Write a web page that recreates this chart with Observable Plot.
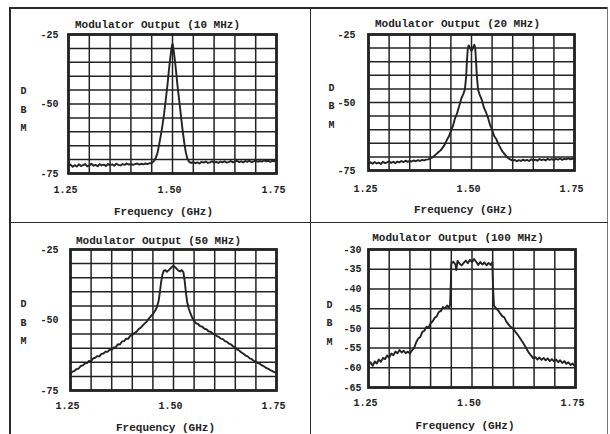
<!DOCTYPE html>
<html>
<head>
<meta charset="utf-8">
<script src="https://cdn.jsdelivr.net/npm/d3@7"></script>
<script src="https://cdn.jsdelivr.net/npm/@observablehq/plot@0.6"></script>
<style>
  html, body { margin: 0; padding: 0; background: #fff; }
  #page { position: relative; width: 610px; height: 434px; background: #fff; overflow: hidden; }
  .ln { position: absolute; background: #2b2b2b; }
  .panel { position: absolute; width: 305px; height: 217px; }
</style>
</head>
<body>
<div id="page">
  <div class="ln" style="left:9px;top:7px;width:599px;height:1.5px;"></div>
  <div class="ln" style="left:9px;top:7px;width:1.5px;height:427px;"></div>
  <div class="ln" style="left:607px;top:7px;width:1px;height:427px;background:#777;"></div>
  <div class="ln" style="left:309.5px;top:7px;width:1.5px;height:427px;"></div>
  <div class="ln" style="left:9px;top:221.5px;width:599px;height:1.5px;"></div>
  <div class="panel" id="p1" style="left:0;top:0;"></div>
  <div class="panel" id="p2" style="left:305px;top:0;"></div>
  <div class="panel" id="p3" style="left:0;top:217px;"></div>
  <div class="panel" id="p4" style="left:305px;top:217px;"></div>
</div>
<script>
// ---- Titles and labels ----
const titles = ["Modulator Output (10 MHz)", "Modulator Output (20 MHz)", "Modulator Output (50 MHz)", "Modulator Output (100 MHz)"];
const xLabel = "Frequency (GHz)";
const yLabel = "D\nB\nM";

// ---- Axis ticks ----
const xGrid = [1.25, 1.30, 1.35, 1.40, 1.45, 1.50, 1.55, 1.60, 1.65, 1.70, 1.75];
const xTicks = [1.25, 1.50, 1.75];
const xTickLabels = ["1.25", "1.50", "1.75"];
const yGridA = [-25, -30, -35, -40, -45, -50, -55, -60, -65, -70, -75];
const yTicksA = [-25, -50, -75];
const yTickLabelsA = ["-25", "-50", "-75"];
const yGridB = [-30, -35, -40, -45, -50, -55, -60, -65];
const yTicksB = [-30, -35, -40, -45, -50, -55, -60, -65];
const yTickLabelsB = ["-30", "-35", "-40", "-45", "-50", "-55", "-60", "-65"];

// ---- Spectra: [frequency GHz, dBm] ----
const spec10 = [
  [1.250,-72.4],[1.255,-71.8],[1.260,-72.6],[1.265,-72.0],[1.270,-72.5],[1.275,-71.7],[1.280,-72.3],[1.285,-72.0],[1.290,-71.6],[1.295,-72.4],
  [1.300,-72.1],[1.305,-71.5],[1.310,-72.2],[1.315,-71.9],[1.320,-72.4],[1.325,-71.6],[1.330,-72.1],[1.335,-71.8],[1.340,-72.3],[1.345,-71.6],
  [1.350,-72.0],[1.355,-71.7],[1.360,-72.2],[1.365,-71.5],[1.370,-71.9],[1.375,-72.1],[1.380,-71.6],[1.385,-71.9],[1.390,-71.4],[1.395,-71.8],
  [1.400,-71.5],[1.405,-71.9],[1.410,-71.6],[1.415,-71.4],[1.420,-71.8],[1.425,-71.5],[1.430,-71.7],[1.435,-71.4],[1.440,-71.6],[1.445,-71.3],
  [1.450,-71.2],[1.455,-70.6],[1.460,-69.3],[1.464,-67.6],[1.468,-64.5],[1.472,-61.2],[1.476,-57.5],[1.480,-53.3],[1.484,-48.2],[1.488,-43.0],
  [1.491,-38.4],[1.494,-34.2],[1.497,-30.6],[1.499,-28.9],[1.500,-28.4],[1.501,-28.8],[1.503,-30.9],[1.506,-34.6],[1.509,-38.9],[1.512,-43.4],
  [1.516,-48.5],[1.520,-53.8],[1.524,-59.0],[1.528,-63.6],[1.532,-67.4],[1.536,-69.8],[1.540,-70.8],[1.545,-71.2],[1.550,-70.9],[1.555,-71.3],
  [1.560,-71.0],[1.565,-71.4],[1.570,-70.8],[1.575,-71.1],[1.580,-70.7],[1.585,-71.2],[1.590,-71.0],[1.595,-70.6],[1.600,-71.1],[1.605,-70.8],
  [1.610,-71.2],[1.615,-70.7],[1.620,-71.0],[1.625,-70.6],[1.630,-71.1],[1.635,-70.9],[1.640,-70.5],[1.645,-71.0],[1.650,-70.7],[1.655,-70.4],
  [1.660,-70.9],[1.665,-70.6],[1.670,-71.0],[1.675,-70.5],[1.680,-70.8],[1.685,-70.4],[1.690,-70.9],[1.695,-70.6],[1.700,-70.3],[1.705,-70.8],
  [1.710,-70.5],[1.715,-70.7],[1.720,-70.3],[1.725,-70.6],[1.730,-70.4],[1.735,-70.8],[1.740,-70.4],[1.745,-70.6],[1.750,-70.3]
];
const spec20 = [
  [1.250,-72.6],[1.255,-72.0],[1.260,-72.5],[1.265,-71.9],[1.270,-72.4],[1.275,-72.1],[1.280,-72.6],[1.285,-71.8],[1.290,-72.3],[1.295,-72.0],
  [1.300,-71.6],[1.305,-72.2],[1.310,-71.8],[1.315,-72.3],[1.320,-71.7],[1.325,-72.0],[1.330,-71.5],[1.335,-71.9],[1.340,-71.4],[1.345,-71.8],
  [1.350,-71.5],[1.355,-71.7],[1.360,-71.3],[1.365,-71.6],[1.370,-71.2],[1.375,-71.5],[1.380,-71.1],[1.385,-71.3],[1.390,-71.0],[1.395,-70.9],
  [1.400,-70.6],[1.405,-70.2],[1.410,-69.6],[1.415,-68.9],[1.420,-68.2],[1.425,-67.6],[1.430,-66.6],[1.435,-65.5],[1.440,-63.8],[1.445,-62.5],
  [1.450,-60.4],[1.455,-58.6],[1.460,-55.8],[1.465,-54.0],[1.470,-51.4],[1.475,-48.7],[1.480,-46.9],[1.484,-45.2],[1.487,-40.5],[1.489,-34.5],
  [1.491,-30.2],[1.493,-29.0],[1.495,-29.4],[1.498,-30.6],[1.500,-31.0],[1.502,-30.5],[1.505,-29.3],[1.507,-28.8],[1.509,-29.9],[1.511,-34.8],
  [1.513,-40.2],[1.516,-45.4],[1.520,-47.2],[1.525,-49.0],[1.530,-51.8],[1.535,-53.5],[1.540,-55.6],[1.545,-58.2],[1.550,-60.0],[1.555,-62.3],
  [1.560,-63.4],[1.565,-65.2],[1.570,-66.6],[1.575,-68.0],[1.580,-68.9],[1.585,-69.9],[1.590,-70.6],[1.595,-71.0],[1.600,-71.4],[1.605,-71.1],
  [1.610,-71.6],[1.615,-71.2],[1.620,-71.5],[1.625,-71.0],[1.630,-71.4],[1.635,-71.1],[1.640,-71.5],[1.645,-70.9],[1.650,-71.3],[1.655,-71.0],
  [1.660,-71.4],[1.665,-70.8],[1.670,-71.2],[1.675,-70.9],[1.680,-71.3],[1.685,-70.7],[1.690,-71.1],[1.695,-70.8],[1.700,-71.2],[1.705,-70.7],
  [1.710,-71.0],[1.715,-70.6],[1.720,-71.1],[1.725,-70.7],[1.730,-70.9],[1.735,-70.5],[1.740,-70.9],[1.745,-70.6],[1.750,-70.8]
];
const spec50 = [
  [1.250,-69.0],[1.255,-68.3],[1.260,-68.0],[1.265,-67.4],[1.270,-67.2],[1.275,-66.3],[1.280,-66.1],[1.285,-65.4],[1.290,-65.3],[1.295,-64.5],
  [1.300,-64.6],[1.305,-63.6],[1.310,-63.4],[1.315,-62.8],[1.320,-62.9],[1.325,-62.0],[1.330,-61.9],[1.335,-61.2],[1.340,-61.3],[1.345,-60.5],
  [1.350,-60.6],[1.355,-59.7],[1.360,-59.6],[1.365,-58.6],[1.370,-58.7],[1.375,-57.6],[1.380,-57.5],[1.385,-56.6],[1.390,-56.7],[1.395,-55.6],
  [1.400,-55.4],[1.405,-54.6],[1.410,-54.2],[1.415,-53.3],[1.420,-52.8],[1.425,-52.0],[1.430,-51.2],[1.435,-50.6],[1.440,-49.5],[1.445,-48.7],
  [1.450,-47.9],[1.455,-46.8],[1.460,-45.3],[1.464,-43.2],[1.467,-40.0],[1.470,-36.5],[1.473,-34.0],[1.476,-32.6],[1.480,-32.3],[1.484,-32.9],
  [1.488,-32.4],[1.492,-31.8],[1.496,-31.2],[1.500,-30.8],[1.504,-31.3],[1.508,-31.9],[1.512,-32.5],[1.516,-32.8],[1.520,-32.3],[1.524,-33.0],
  [1.527,-36.0],[1.530,-40.0],[1.533,-43.5],[1.537,-45.9],[1.541,-47.6],[1.545,-49.0],[1.550,-50.3],[1.555,-51.2],[1.560,-51.5],[1.565,-52.2],
  [1.570,-52.4],[1.575,-53.1],[1.580,-53.3],[1.585,-54.0],[1.590,-54.2],[1.595,-54.8],[1.600,-55.0],[1.605,-55.7],[1.610,-56.0],[1.615,-56.6],
  [1.620,-56.8],[1.625,-57.5],[1.630,-57.8],[1.635,-58.4],[1.640,-58.7],[1.645,-59.4],[1.650,-59.7],[1.655,-60.5],[1.660,-60.9],[1.665,-61.5],
  [1.670,-62.0],[1.675,-62.6],[1.680,-62.9],[1.685,-63.6],[1.690,-63.9],[1.695,-64.5],[1.700,-64.7],[1.705,-65.3],[1.710,-65.6],[1.715,-66.1],
  [1.720,-66.5],[1.725,-67.0],[1.730,-67.3],[1.735,-67.8],[1.740,-68.1],[1.745,-68.5],[1.750,-68.8]
];
const spec100 = [
  [1.250,-59.3],[1.255,-58.6],[1.260,-59.5],[1.265,-58.4],[1.270,-58.9],[1.275,-57.9],[1.280,-58.5],[1.285,-57.5],[1.290,-57.8],[1.295,-56.9],
  [1.300,-57.4],[1.305,-56.4],[1.310,-56.8],[1.315,-55.9],[1.320,-56.3],[1.325,-55.5],[1.330,-56.1],[1.335,-55.7],[1.340,-56.3],[1.345,-55.9],
  [1.350,-56.4],[1.355,-55.6],[1.360,-55.0],[1.365,-53.6],[1.370,-52.6],[1.375,-52.2],[1.380,-50.9],[1.385,-50.6],[1.390,-49.6],[1.395,-49.8],
  [1.400,-48.7],[1.405,-48.2],[1.410,-47.3],[1.415,-46.9],[1.420,-45.8],[1.425,-45.6],[1.430,-44.6],[1.435,-44.9],[1.440,-44.2],[1.444,-44.8],
  [1.447,-44.0],[1.449,-38.0],[1.450,-33.5],[1.455,-33.1],[1.460,-33.8],[1.462,-35.2],[1.465,-32.9],[1.470,-33.6],[1.475,-34.0],[1.480,-33.4],
  [1.485,-32.8],[1.490,-33.5],[1.495,-32.6],[1.500,-33.2],[1.505,-32.4],[1.510,-33.1],[1.515,-33.9],[1.520,-33.2],[1.525,-33.8],[1.530,-33.3],
  [1.535,-34.0],[1.540,-33.4],[1.545,-33.9],[1.549,-33.2],[1.551,-40.0],[1.553,-44.2],[1.558,-44.9],[1.563,-45.4],[1.568,-46.2],[1.573,-46.9],
  [1.578,-47.2],[1.583,-48.3],[1.588,-49.0],[1.593,-49.6],[1.598,-50.0],[1.603,-50.6],[1.608,-51.3],[1.613,-52.0],[1.618,-52.8],[1.623,-53.6],
  [1.628,-54.5],[1.633,-55.4],[1.638,-56.3],[1.643,-56.9],[1.648,-57.6],[1.653,-57.3],[1.658,-57.9],[1.663,-57.4],[1.668,-58.0],[1.673,-57.5],
  [1.678,-58.1],[1.683,-57.6],[1.688,-58.3],[1.693,-57.8],[1.698,-58.4],[1.703,-57.9],[1.708,-58.6],[1.713,-58.1],[1.718,-58.8],[1.723,-58.3],
  [1.728,-59.0],[1.733,-58.6],[1.738,-59.3],[1.743,-58.9],[1.748,-59.6],[1.750,-59.4]
];

const INK = "#232323";
const FONT = "'Liberation Mono', 'Courier New', 'DejaVu Sans Mono', monospace";

function panel(cfg) {
  return Plot.plot({
    width: 305,
    height: 217,
    marginLeft: cfg.m[0], marginRight: cfg.m[1], marginTop: cfg.m[2], marginBottom: cfg.m[3],
    style: { background: "transparent", fontFamily: FONT, fontWeight: "bold", fontSize: "10px", color: INK, overflow: "visible" },
    x: { domain: [1.25, 1.75] },
    y: { domain: cfg.yDomain },
    marks: [
      Plot.ruleX(xGrid, { stroke: INK, strokeWidth: 1.5 }),
      Plot.ruleY(cfg.yGrid, { stroke: INK, strokeWidth: 1.5 }),
      Plot.line(cfg.data, { x: d => d[0], y: d => d[1], stroke: INK, strokeWidth: 1.9, strokeLinejoin: "round" }),
      Plot.frame({ stroke: INK, strokeWidth: 2.8 }),
      Plot.axisX(xTicks, { tickSize: 0, tickPadding: cfg.xPad, dx: -3, label: null,
        tickFormat: d => xTickLabels[xTicks.indexOf(d)], fontSize: 10 }),
      Plot.axisY(cfg.yTicks, { tickSize: 0, tickPadding: cfg.yPad, label: null,
        tickFormat: d => cfg.yLabels[cfg.yTicks.indexOf(d)], fontSize: 10 }),
      Plot.text([cfg.title], { text: d => d, frameAnchor: "top", lineAnchor: "middle", dy: cfg.titleDy, dx: cfg.titleDx, fontSize: 11, fontWeight: "bold", fill: INK }),
      Plot.text([xLabel], { text: d => d, frameAnchor: "bottom", lineAnchor: "middle", dy: cfg.xlabDy, dx: cfg.xlabDx, fontSize: 11, fontWeight: "bold", fill: INK }),
      Plot.text([yLabel], { text: d => d, frameAnchor: "left", lineAnchor: "middle", dx: cfg.ylabDx, dy: cfg.ylabDy, lineHeight: 1.85, fontSize: 10, fontWeight: "bold", fill: INK })
    ]
  });
}

document.getElementById("p1").append(panel({
  m: [68, 29, 34, 44], yDomain: [-75, -25], yGrid: yGridA, yTicks: yTicksA, yLabels: yTickLabelsA,
  data: spec10, title: titles[0], xPad: 12, yPad: 10, titleDy: -10, titleDx: -15, xlabDy: 38, xlabDx: -9, ylabDx: -48, ylabDy: 3
}));
document.getElementById("p2").append(panel({
  m: [63, 36, 34, 47], yDomain: [-75, -25], yGrid: yGridA, yTicks: yTicksA, yLabels: yTickLabelsA,
  data: spec20, title: titles[1], xPad: 14, yPad: 13, titleDy: -11, titleDx: -14, xlabDy: 39, xlabDx: -8, ylabDx: -40, ylabDy: 1
}));
document.getElementById("p3").append(panel({
  m: [70, 29, 32, 44], yDomain: [-75, -25], yGrid: yGridA, yTicks: yTicksA, yLabels: yTickLabelsA,
  data: spec50, title: titles[2], xPad: 11, yPad: 12, titleDy: -9, titleDx: -15, xlabDy: 37, xlabDx: -8, ylabDx: -50, ylabDy: 0
}));
document.getElementById("p4").append(panel({
  m: [63, 35, 32, 47], yDomain: [-65, -30], yGrid: yGridB, yTicks: yTicksB, yLabels: yTickLabelsB,
  data: spec100, title: titles[3], xPad: 11, yPad: 7, titleDy: -12, titleDx: -14, xlabDy: 38, xlabDx: -7, ylabDx: -42, ylabDy: 2
}));
</script>
</body>
</html>
